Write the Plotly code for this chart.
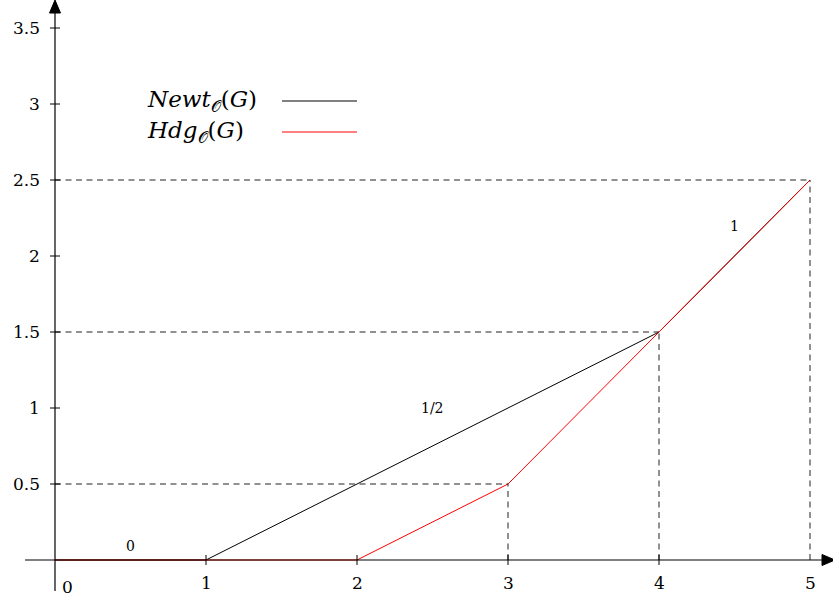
import plotly.graph_objects as go

# Data
newt_x = [0, 1, 4, 5]
newt_y = [0, 0, 1.5, 2.5]
hdg_x = [0, 2, 3, 4, 5]
hdg_y = [0, 0, 0.5, 1.5, 2.5]
guide_x = [3, 4, 5]
guide_y = [0.5, 1.5, 2.5]
x_ticks = [1, 2, 3, 4, 5]
x_tick_labels = ["1", "2", "3", "4", "5"]
y_ticks = [0.5, 1, 1.5, 2, 2.5, 3, 3.5]
y_tick_labels = ["0.5", "1", "1.5", "2", "2.5", "3", "3.5"]
slope_labels = ["0", "1/2", "1"]
slope_x = [0.5, 2.5, 4.5]
slope_y = [0.09, 1.0, 2.2]
legend_names = ["<i>Newt</i><sub>𝒪</sub>(<i>G</i>)", "<i>Hdg</i><sub>𝒪</sub>(<i>G</i>)"]
legend_colors = ["black", "red"]

W, H = 833, 599
px_per_x = 151.0
px_per_y = 152.0
x0_px, y0_px = 55.0, 560.0
xr = [-x0_px / px_per_x, (W - x0_px) / px_per_x]
yr = [-(H - y0_px) / px_per_y, y0_px / px_per_y]
dx = 1 / px_per_x
dy = 1 / px_per_y

FONT = "DejaVu Serif"
DASH = "6px,4.5px"

fig = go.Figure()

shapes = []
annotations = []

# dashed guides
for gx, gy in zip(guide_x, guide_y):
    shapes.append(dict(type="line", x0=0, x1=gx, y0=gy, y1=gy,
                       line=dict(color="#222", width=1, dash=DASH)))
    shapes.append(dict(type="line", x0=gx, x1=gx, y0=0, y1=gy,
                       line=dict(color="#222", width=1, dash=DASH)))

# axes lines
x_end = xr[1] + 2 * dx
y_end = yr[1]
shapes.append(dict(type="line", x0=-30 * dx, x1=x_end - 10 * dx, y0=0, y1=0,
                   line=dict(color="black", width=1.2)))
shapes.append(dict(type="line", x0=0, x1=0, y0=-31 * dy, y1=y_end - 10 * dy,
                   line=dict(color="black", width=1.2)))

# arrowheads (filled triangles)
ah_len, ah_half = 13, 5.5
shapes.append(dict(type="path",
                   path=f"M {x_end - ah_len*dx} {-ah_half*dy} L {x_end} 0 L {x_end - ah_len*dx} {ah_half*dy} Z",
                   fillcolor="black", line=dict(color="black", width=1)))
shapes.append(dict(type="path",
                   path=f"M {-ah_half*dx} {y_end - ah_len*dy} L 0 {y_end} L {ah_half*dx} {y_end - ah_len*dy} Z",
                   fillcolor="black", line=dict(color="black", width=1)))

# ticks
for t in x_ticks[:-1]:
    shapes.append(dict(type="line", x0=t, x1=t, y0=-5 * dy, y1=5 * dy,
                       line=dict(color="black", width=1)))
for t in y_ticks:
    shapes.append(dict(type="line", x0=-5 * dx, x1=5 * dx, y0=t, y1=t,
                       line=dict(color="black", width=1)))

# tick labels
for t, lab in zip(x_ticks, x_tick_labels):
    annotations.append(dict(x=t, y=-11 * dy, text=lab, showarrow=False,
                            xanchor="center", yanchor="top",
                            font=dict(family=FONT, size=17, color="black")))
for t, lab in zip(y_ticks, y_tick_labels):
    annotations.append(dict(x=-13 * dx, y=t, text=lab, showarrow=False,
                            xanchor="right", yanchor="middle",
                            font=dict(family=FONT, size=17, color="black")))
annotations.append(dict(x=5 * dx, y=-15 * dy, text="0", showarrow=False,
                        xanchor="left", yanchor="top",
                        font=dict(family=FONT, size=17, color="black")))

# slope labels
for lab, sx, sy in zip(slope_labels, slope_x, slope_y):
    annotations.append(dict(x=sx, y=sy, text=lab, showarrow=False,
                            xanchor="center", yanchor="middle",
                            font=dict(family=FONT, size=14, color="black")))

# data lines
fig.add_trace(go.Scatter(x=newt_x, y=newt_y, mode="lines",
                         line=dict(color="black", width=1), showlegend=False))
fig.add_trace(go.Scatter(x=hdg_x, y=hdg_y, mode="lines",
                         line=dict(color="red", width=1), showlegend=False))

# manual legend
leg_y_px = [101, 132]
for name, col, ly in zip(legend_names, legend_colors, leg_y_px):
    yv = (y0_px - ly) / px_per_y
    annotations.append(dict(x=(145 - x0_px) / px_per_x, y=yv, text=name,
                            showarrow=False, xanchor="left", yanchor="middle",
                            font=dict(family=FONT, size=23, color="black")))
    shapes.append(dict(type="line", x0=(282 - x0_px) / px_per_x,
                       x1=(357 - x0_px) / px_per_x, y0=yv, y1=yv,
                       line=dict(color=col, width=1)))

fig.update_layout(
    width=W, height=H,
    margin=dict(l=0, r=0, t=0, b=0),
    paper_bgcolor="white", plot_bgcolor="white",
    xaxis=dict(range=xr, visible=False, fixedrange=True),
    yaxis=dict(range=yr, visible=False, fixedrange=True),
    shapes=shapes, annotations=annotations,
    showlegend=False,
)

fig.write_html("out.html", config={"displayModeBar": False},
               post_script="document.body.style.margin='0';document.body.style.overflow='hidden';")
